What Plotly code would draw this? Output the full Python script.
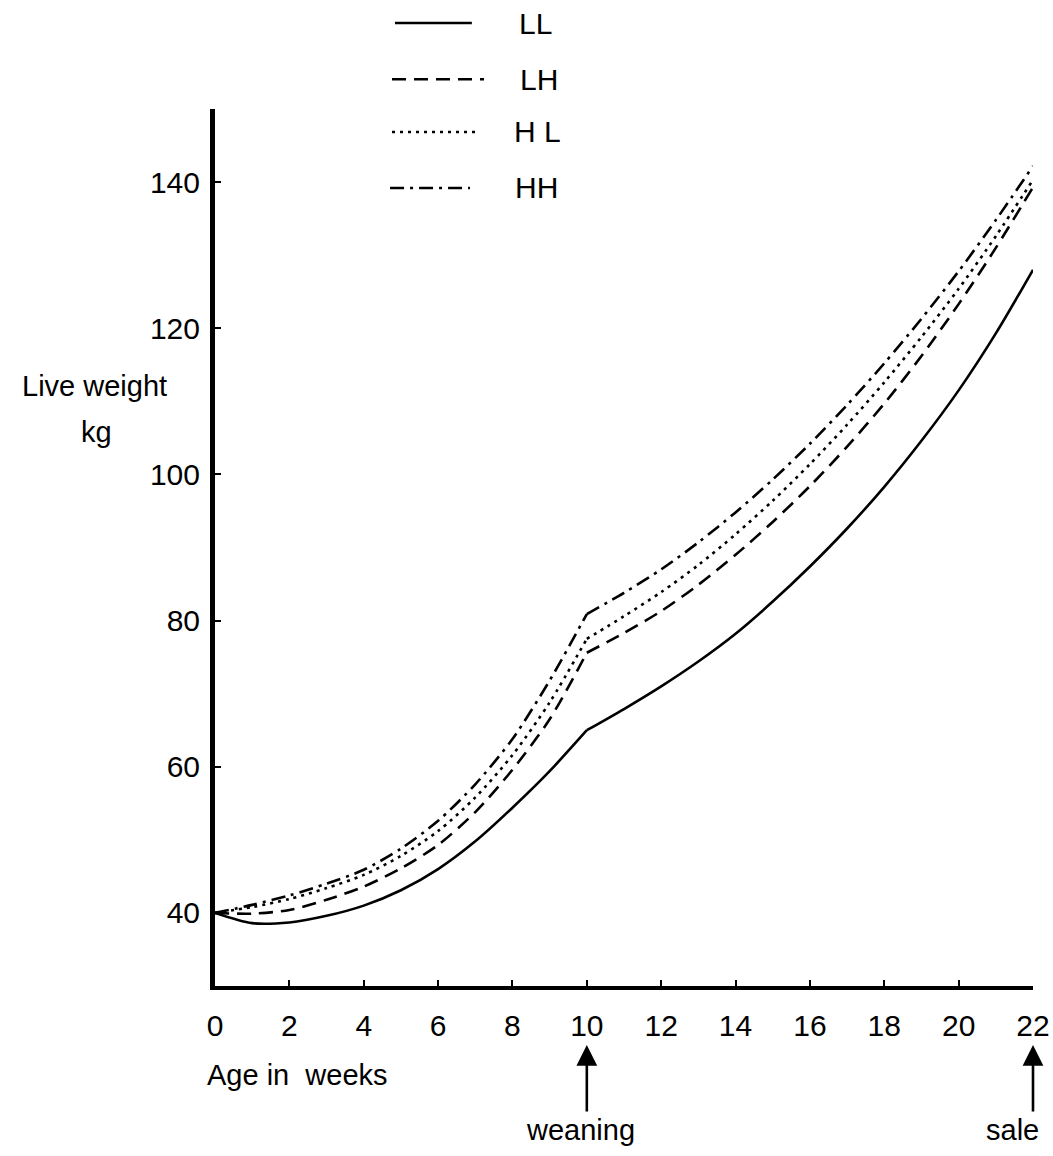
import plotly.graph_objects as go

weeks = list(range(0, 23))
x_ticks = list(range(0, 23, 2))
y_ticks = [40, 60, 80, 100, 120, 140]
weaning_week = 10

series_names = ["LL", "LH", "HL", "HH"]
legend_labels = ["LL", "LH", "H L", "HH"]

LL = [40.0, 38.6, 38.7, 39.6, 41.0, 43.1, 46.0, 49.8, 54.4, 59.4, 65.0,
      67.9, 71.0, 74.4, 78.2, 82.6, 87.4, 92.6, 98.3, 104.6, 111.5, 119.3, 128.0]
LH = [40.0, 39.9, 40.4, 41.8, 43.6, 46.1, 49.3, 53.8, 59.6, 66.5, 75.6,
      78.3, 81.3, 84.9, 89.0, 93.5, 98.4, 103.8, 109.7, 116.2, 123.3, 131.0, 139.3]
HL = [40.0, 40.8, 41.9, 43.4, 45.2, 47.8, 51.2, 55.8, 61.6, 68.8, 77.5,
      80.6, 83.9, 87.6, 91.8, 96.4, 101.4, 106.8, 112.6, 118.8, 125.4, 132.6, 140.3]
HH = [40.0, 41.1, 42.4, 44.0, 45.9, 48.8, 52.6, 57.6, 63.8, 71.8, 80.9,
      83.8, 87.0, 90.7, 94.8, 99.3, 104.2, 109.5, 115.2, 121.3, 127.8, 134.8, 142.2]

values = {"LL": LL, "LH": LH, "HL": HL, "HH": HH}
dashes = {"LL": "solid", "LH": "14px,8px", "HL": "3px,5px", "HH": "14px,6px,3px,6px"}

FONT = "Liberation Sans"

fig = go.Figure()
k = weeks.index(weaning_week)
for name in series_names:
    v = values[name]
    # pre- and post-weaning segments drawn separately so the kink at weaning stays sharp
    for xs, ys in [(weeks[:k + 1], v[:k + 1]), (weeks[k:], v[k:])]:
        fig.add_trace(go.Scatter(
            x=xs, y=ys, mode="lines", name=name, legendgroup=name,
            line=dict(color="black", width=2.6, dash=dashes[name],
                      shape="spline", smoothing=0.8),
            showlegend=False))

# hand-drawn style legend at top
leg_y = [1.098, 1.034, 0.9738, 0.910]
leg_x0 = [0.220, 0.2164, 0.2164, 0.214]
leg_x1 = [0.314, 0.3289, 0.324, 0.3117]
lab_x = [0.369, 0.3704, 0.363, 0.3643]
for i, name in enumerate(series_names):
    fig.add_shape(type="line", xref="paper", yref="paper",
                  x0=leg_x0[i], x1=leg_x1[i], y0=leg_y[i], y1=leg_y[i],
                  line=dict(color="black", width=2.6, dash=dashes[name]))
    fig.add_annotation(xref="paper", yref="paper", x=lab_x[i], y=leg_y[i],
                       text=legend_labels[i], showarrow=False,
                       xanchor="left", yanchor="middle",
                       font=dict(family=FONT, size=30, color="black"))

# axis titles
fig.add_annotation(xref="paper", yref="paper", x=-0.147, y=0.684,
                   text="Live weight", showarrow=False, xanchor="center", yanchor="middle",
                   font=dict(family=FONT, size=29, color="black"))
fig.add_annotation(xref="paper", yref="paper", x=-0.145, y=0.632,
                   text="kg", showarrow=False, xanchor="center", yanchor="middle",
                   font=dict(family=FONT, size=29, color="black"))
fig.add_annotation(xref="paper", yref="paper", x=-0.012, y=-0.101,
                   text="Age in  weeks", showarrow=False, xanchor="left", yanchor="middle",
                   font=dict(family=FONT, size=29, color="black"))

# arrows and labels
for xv, lab, lx in [(10, "weaning", 9.82), (22, "sale", 21.46)]:
    fig.add_annotation(x=xv, xref="x", yref="paper", y=-0.0673,
                       ax=0, ay=68, text="", showarrow=True,
                       arrowhead=2, arrowsize=1.6, arrowwidth=2.6, arrowcolor="black")
    fig.add_annotation(x=lx, xref="x", yref="paper", y=-0.164,
                       text=lab, showarrow=False, xanchor="center", yanchor="middle",
                       font=dict(family=FONT, size=29, color="black"))

fig.update_layout(
    width=1053, height=1156,
    margin=dict(l=215, r=20, t=109, b=170),
    paper_bgcolor="white", plot_bgcolor="white",
    font=dict(family=FONT, color="black"),
)
fig.update_xaxes(range=[0, 22], tickvals=x_ticks, ticktext=[str(v) for v in x_ticks],
                 automargin=False,
                 showgrid=False, zeroline=False, showline=True, linecolor="black",
                 linewidth=4, ticks="inside", ticklen=6, tickwidth=2, tickcolor="black",
                 ticklabelstandoff=10, tickfont=dict(family=FONT, size=30, color="black"))
fig.update_yaxes(range=[30, 150], tickvals=y_ticks, ticktext=[str(v) for v in y_ticks],
                 automargin=False,
                 showgrid=False, zeroline=False, showline=True, linecolor="black",
                 linewidth=5, ticks="inside", ticklen=6, tickwidth=2, tickcolor="black",
                 ticklabelstandoff=4, tickfont=dict(family=FONT, size=30, color="black"))

fig.write_html("out.html")
